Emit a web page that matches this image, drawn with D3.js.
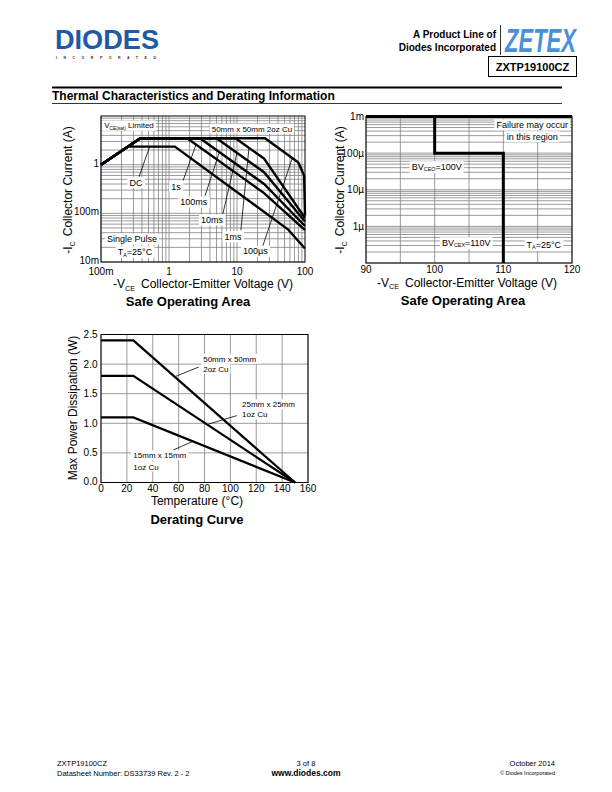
<!DOCTYPE html>
<html><head><meta charset="utf-8">
<script src="https://cdn.jsdelivr.net/npm/d3@7/dist/d3.min.js"></script>
<style>
body{margin:0;background:#fff}
text{font-family:"Liberation Sans",Arial,Helvetica,sans-serif;fill:#000}
</style>
</head><body>
<svg id="c" width="612" height="792"></svg>
<script>
// ---------- DATA ----------
// Safe Operating Area (left): -VCE (V) vs -IC (A)
const soaVoltageTicks = [0.1, 1, 10, 100];
const soaVoltageTickLabels = ["100m", "1", "10", "100"];
const soaCurrentTicks = [0.01, 0.1, 1];
const soaCurrentTickLabels = ["10m", "100m", "1"];
const soaDC    = [[0.1,1],[0.25,2.35],[1.22,2.35],[56,0.047],[100,0.019]];
const soa1s    = [[0.1,1],[0.38,3.5],[1.85,3.5],[25,0.26],[100,0.045]];
const soa100ms = [[0.1,1],[0.38,3.5],[2.85,3.5],[25,0.40],[100,0.055]];
const soa10ms  = [[0.1,1],[0.38,3.5],[5.0,3.5],[25,0.70],[100,0.068]];
const soa1ms   = [[0.1,1],[0.38,3.5],[9.5,3.5],[25,1.33],[100,0.08]];
const soa100us = [[0.1,1],[0.38,3.5],[25.8,3.5],[80,1.1],[97,0.6],[100,0.09]];

// Safe Operating Area (right): breakdown region
const bvVoltageTicks = [90, 100, 110, 120];
const bvCurrentTicks = [1e-6, 1e-5, 1e-4, 1e-3];
const bvCurrentTickLabels = ["1\u00b5", "10\u00b5", "100\u00b5", "1m"];
const bvTopEdge = [[90,1e-3],[120,1e-3]];
const bvLimit   = [[100,1e-3],[100,1e-4],[110,1e-4],[110,1e-7]];

// Derating curve
const deratingTemps = [0, 25, 150];
const pd50x50 = [2.4, 2.4, 0];
const pd25x25 = [1.8, 1.8, 0];
const pd15x15 = [1.1, 1.1, 0];
const tempTicks = [0,20,40,60,80,100,120,140,160];
const powerTicks = [0,0.5,1.0,1.5,2.0,2.5];

// ---------- HELPERS ----------
const svg = d3.select("#c");

// parts: array of [string, isSub, dx]
function richText(g, x, y, parts, size, opts = {}) {
  const t = g.append("text").attr("x", x).attr("y", y)
    .attr("font-size", size)
    .attr("text-anchor", opts.anchor || "middle")
    .attr("dominant-baseline", opts.baseline || "central")
    .attr("font-weight", opts.weight || "normal");
  if (opts.rotate) t.attr("transform", `rotate(${opts.rotate},${x},${y})`);
  let shifted = false;
  parts.forEach(p => {
    const s = t.append("tspan").text(p[0]);
    if (p[2]) s.attr("dx", p[2]);
    if (p[1]) { s.attr("font-size", size * 0.6).attr("dy", size * 0.3); shifted = true; }
    else if (shifted) { s.attr("dy", -size * 0.3); shifted = false; }
  });
  if (opts.box) {
    const b = t.node().getBBox();
    g.insert("rect", () => t.node())
      .attr("x", b.x - 2).attr("y", b.y - 0.5)
      .attr("width", b.width + 4).attr("height", b.height + 1)
      .attr("fill", "#fff");
  }
  return t;
}

function logMinor(lo, hi) {
  const out = [];
  for (let e = Math.round(Math.log10(lo)); e < Math.round(Math.log10(hi)); e++)
    for (let k = 1; k <= 9; k++) out.push(k * Math.pow(10, e));
  return out;
}

function interpLogLog(curve, v) {
  for (let i = 0; i < curve.length - 1; i++) {
    const [x0,y0] = curve[i], [x1,y1] = curve[i+1];
    if (v >= x0 && v <= x1) {
      const t = (Math.log(v) - Math.log(x0)) / (Math.log(x1) - Math.log(x0));
      return Math.exp(Math.log(y0) + t * (Math.log(y1) - Math.log(y0)));
    }
  }
  return curve[curve.length-1][1];
}

// ---------- HEADER ----------
const hdr = svg.append("g");
hdr.append("text").attr("x", 55).attr("y", 49).text("DIODES")
  .attr("font-size", 28).attr("font-weight", 900).attr("textLength", 104)
  .attr("lengthAdjust", "spacingAndGlyphs").style("fill", "#1f5aa6");
hdr.append("text").attr("x", 56).attr("y", 58.5).text("INCORPORATED")
  .attr("font-size", 3.6).attr("font-weight", "bold").attr("textLength", 100)
  .style("fill", "#333");
hdr.append("text").attr("x", 496).attr("y", 38).text("A Product Line of")
  .attr("font-size", 10).attr("font-weight", "bold").attr("text-anchor", "end");
hdr.append("text").attr("x", 496).attr("y", 51).text("Diodes Incorporated")
  .attr("font-size", 10).attr("font-weight", "bold").attr("text-anchor", "end");
hdr.append("line").attr("x1", 500.5).attr("x2", 500.5).attr("y1", 25).attr("y2", 55)
  .attr("stroke", "#000").attr("stroke-width", 0.8);
hdr.append("text").attr("x", 505).attr("y", 52).text("ZETEX")
  .attr("font-size", 33).attr("font-weight", "bold").attr("font-style", "italic")
  .attr("textLength", 71).attr("lengthAdjust", "spacingAndGlyphs")
  .style("fill", "#4a90d9");
hdr.append("rect").attr("x", 488.5).attr("y", 56.5).attr("width", 88).attr("height", 20)
  .attr("fill", "none").attr("stroke", "#000").attr("stroke-width", 1);
hdr.append("text").attr("x", 532.5).attr("y", 70.5).text("ZXTP19100CZ")
  .attr("font-size", 11).attr("font-weight", "bold").attr("text-anchor", "middle");
hdr.append("line").attr("x1", 52).attr("x2", 562).attr("y1", 87.5).attr("y2", 87.5)
  .attr("stroke", "#000").attr("stroke-width", 2);
hdr.append("text").attr("x", 52).attr("y", 99.5)
  .text("Thermal Characteristics and Derating Information")
  .attr("font-size", 12).attr("font-weight", "bold");
hdr.append("line").attr("x1", 52).attr("x2", 562).attr("y1", 103.5).attr("y2", 103.5)
  .attr("stroke", "#000").attr("stroke-width", 0.8);

// ---------- LEFT SOA ----------
{
  const g = svg.append("g");
  const x = d3.scaleLog().domain([0.1, 100]).range([101, 305]);
  const y = d3.scaleLog().domain([0.01, 10]).range([262, 116]);
  logMinor(0.1, 100).forEach(v => g.append("line")
    .attr("x1", x(v)).attr("x2", x(v)).attr("y1", y(0.01)).attr("y2", y(10))
    .attr("stroke", "#808080").attr("stroke-width", 0.8));
  logMinor(0.01, 10).forEach(v => g.append("line")
    .attr("x1", x(0.1)).attr("x2", x(100)).attr("y1", y(v)).attr("y2", y(v))
    .attr("stroke", "#808080").attr("stroke-width", 0.8));
  const line = d3.line().x(d => x(d[0])).y(d => y(d[1]));
  const curves = [soaDC, soa1s, soa100ms, soa10ms, soa1ms, soa100us];
  const labels = [
    {t:[["DC"]], at:[0.328,0.425], from:[0.362,0.56], curve:soaDC, v:0.52},
    {t:[["1s"]], at:[1.27,0.352], from:[1.61,0.47], curve:soa1s, v:2.5},
    {t:[["100ms"]], at:[2.31,0.17], from:[3.39,0.23], curve:soa100ms, v:5.5},
    {t:[["10ms"]], at:[4.29,0.073], from:[6.2,0.098], curve:soa10ms, v:10},
    {t:[["1ms"]], at:[8.76,0.033], from:[11.4,0.045], curve:soa1ms, v:15},
    {t:[["100\u00b5s"]], at:[18.6,0.0165], from:[24,0.0215], curve:soa100us, v:65}
  ];
  labels.forEach(l => g.append("line")
    .attr("x1", x(l.from[0])).attr("y1", y(l.from[1]))
    .attr("x2", x(l.v)).attr("y2", y(interpLogLog(l.curve, l.v)))
    .attr("stroke", "#000").attr("stroke-width", 0.8));
  curves.forEach(c => g.append("path").attr("d", line(c))
    .attr("fill", "none").attr("stroke", "#000").attr("stroke-width", 2.4)
    .attr("stroke-linejoin", "miter"));
  labels.forEach(l => richText(g, x(l.at[0]), y(l.at[1]), l.t, 9, {box:true}));
  richText(g, x(0.258), y(6.4), [["V"],["CE(sat)",true],[" Limited"]], 8, {box:true});
  richText(g, x(16.6), y(5.5), [["50mm x 50mm 2oz Cu"]], 8, {box:true});
  richText(g, x(0.285), y(0.0297), [["Single Pulse"]], 9, {box:true});
  richText(g, x(0.316), y(0.0162), [["T"],["A",true],["=25\u00b0C"]], 9, {box:true});
  g.append("rect").attr("x", 101).attr("y", 116).attr("width", 204).attr("height", 146)
    .attr("fill", "none").attr("stroke", "#000").attr("stroke-width", 1);
  soaVoltageTicks.forEach((v, i) => g.append("text").attr("x", x(v)).attr("y", 271.5)
    .attr("text-anchor", "middle").attr("dominant-baseline", "central")
    .attr("font-size", 10).text(soaVoltageTickLabels[i]));
  soaCurrentTicks.forEach((v, i) => g.append("text").attr("x", 99).attr("y", y(v) - 1.5)
    .attr("text-anchor", "end").attr("dominant-baseline", "central")
    .attr("font-size", 10).text(soaCurrentTickLabels[i]));
  richText(g, 203, 284, [["-V"],["CE",true],["Collector-Emitter Voltage (V)",false,6]], 12);
  richText(g, 68, 190, [["-I"],["C",true],["Collector Current (A)",false,5]], 12, {rotate:-90});
  richText(g, 188, 300.5, [["Safe Operating Area"]], 13, {weight:"bold"});
}

// ---------- RIGHT SOA ----------
{
  const g = svg.append("g");
  const x = d3.scaleLinear().domain([90, 120]).range([366, 572]);
  const y = d3.scaleLog().domain([1e-7, 1e-3]).range([263, 116.5]);
  d3.range(90, 121, 5).forEach(v => g.append("line")
    .attr("x1", x(v)).attr("x2", x(v)).attr("y1", y(1e-7)).attr("y2", y(1e-3))
    .attr("stroke", "#808080").attr("stroke-width", 0.8));
  logMinor(1e-7, 1e-3).forEach(v => g.append("line")
    .attr("x1", x(90)).attr("x2", x(120)).attr("y1", y(v)).attr("y2", y(v))
    .attr("stroke", "#808080").attr("stroke-width", 0.8));
  g.append("rect").attr("x", 366).attr("y", 116.5).attr("width", 206).attr("height", 146.5)
    .attr("fill", "none").attr("stroke", "#000").attr("stroke-width", 1);
  const line = d3.line().x(d => x(d[0])).y(d => y(d[1]));
  [bvTopEdge, bvLimit].forEach(c => g.append("path").attr("d", line(c))
    .attr("fill", "none").attr("stroke", "#000").attr("stroke-width", 3)
    .attr("stroke-linejoin", "miter"));
  richText(g, x(114.2), y(5.94e-4), [["Failure may occur"]], 9, {box:true});
  richText(g, x(114.2), y(2.79e-4), [["in this region"]], 9, {box:true});
  richText(g, x(100.3), y(4.25e-5), [["BV"],["CEO",true],["=100V"]], 9, {box:true});
  richText(g, x(104.6), y(3.58e-7), [["BV"],["CEX",true],["=110V"]], 9, {box:true});
  richText(g, x(115.9), y(3.16e-7), [["T"],["A",true],["=25\u00b0C"]], 9, {box:true});
  bvVoltageTicks.forEach(v => g.append("text").attr("x", x(v)).attr("y", 269.5)
    .attr("text-anchor", "middle").attr("dominant-baseline", "central")
    .attr("font-size", 10).text(v));
  bvCurrentTicks.forEach((v, i) => g.append("text").attr("x", 364).attr("y", y(v))
    .attr("text-anchor", "end").attr("dominant-baseline", "central")
    .attr("font-size", 10).text(bvCurrentTickLabels[i]));
  richText(g, 467, 282.5, [["-V"],["CE",true],["Collector-Emitter Voltage (V)",false,6]], 12);
  richText(g, 340, 190, [["-I"],["C",true],["Collector Current (A)",false,5]], 12, {rotate:-90});
  richText(g, 463, 300, [["Safe Operating Area"]], 13, {weight:"bold"});
}

// ---------- DERATING ----------
{
  const g = svg.append("g");
  const x = d3.scaleLinear().domain([0, 160]).range([101, 308]);
  const y = d3.scaleLinear().domain([0, 2.5]).range([482.5, 334.5]);
  tempTicks.forEach(v => g.append("line")
    .attr("x1", x(v)).attr("x2", x(v)).attr("y1", y(0)).attr("y2", y(2.5))
    .attr("stroke", "#808080").attr("stroke-width", 0.8));
  powerTicks.forEach(v => g.append("line")
    .attr("x1", x(0)).attr("x2", x(160)).attr("y1", y(v)).attr("y2", y(v))
    .attr("stroke", "#808080").attr("stroke-width", 0.8));
  g.append("rect").attr("x", 101).attr("y", 334.5).attr("width", 207).attr("height", 148)
    .attr("fill", "none").attr("stroke", "#000").attr("stroke-width", 1);
  const line = d3.line().x((d, i) => x(deratingTemps[i])).y(d => y(d));
  const interp = (arr, t) => {
    for (let i = 0; i < deratingTemps.length - 1; i++) {
      const a = deratingTemps[i], b = deratingTemps[i+1];
      if (t >= a && t <= b) return arr[i] + (arr[i+1]-arr[i]) * (t-a)/(b-a);
    }
    return 0;
  };
  const leaders = [
    {arr: pd50x50, from:[75.5, 1.95], t:57},
    {arr: pd25x25, from:[105, 1.13], t:82},
    {arr: pd15x15, from:[56, 0.55], t:71}
  ];
  leaders.forEach(l => g.append("line")
    .attr("x1", x(l.from[0])).attr("y1", y(l.from[1]))
    .attr("x2", x(l.t)).attr("y2", y(interp(l.arr, l.t)))
    .attr("stroke", "#000").attr("stroke-width", 0.8));
  [pd50x50, pd25x25, pd15x15].forEach(a => g.append("path").attr("d", line(a))
    .attr("fill", "none").attr("stroke", "#000").attr("stroke-width", 2.2));
  const ann = (t, p, s) => richText(g, x(t), y(p), [[s]], 8, {anchor:"start", box:true});
  ann(79, 2.09, "50mm x 50mm"); ann(79, 1.92, "2oz Cu");
  ann(109, 1.32, "25mm x 25mm"); ann(109, 1.15, "1oz Cu");
  ann(25, 0.46, "15mm x 15mm"); ann(25, 0.27, "1oz Cu");
  tempTicks.forEach(v => g.append("text").attr("x", x(v)).attr("y", 488)
    .attr("text-anchor", "middle").attr("dominant-baseline", "central")
    .attr("font-size", 10).text(v));
  powerTicks.forEach(v => g.append("text").attr("x", 97.5).attr("y", y(v) - (v === 0 ? 1.5 : 0))
    .attr("text-anchor", "end").attr("dominant-baseline", "central")
    .attr("font-size", 10).text(v.toFixed(1)));
  richText(g, 197, 500.5, [["Temperature (\u00b0C)"]], 12);
  richText(g, 73, 408, [["Max Power Dissipation (W)"]], 12, {rotate:-90});
  richText(g, 197, 518.5, [["Derating Curve"]], 13, {weight:"bold"});
}

// ---------- FOOTER ----------
{
  const g = svg.append("g");
  g.append("text").attr("x", 57).attr("y", 766).attr("font-size", 7.5).text("ZXTP19100CZ");
  g.append("text").attr("x", 57).attr("y", 776).attr("font-size", 7.5)
    .text("Datasheet Number: DS33739 Rev. 2 - 2");
  g.append("text").attr("x", 306).attr("y", 766).attr("font-size", 7.5)
    .attr("text-anchor", "middle").text("3 of 8");
  g.append("text").attr("x", 306).attr("y", 776).attr("font-size", 8.5)
    .attr("font-weight", "bold").attr("text-anchor", "middle").text("www.diodes.com");
  g.append("text").attr("x", 555).attr("y", 766).attr("font-size", 7.5)
    .attr("text-anchor", "end").text("October 2014");
  g.append("text").attr("x", 555).attr("y", 775).attr("font-size", 5.5)
    .attr("text-anchor", "end").text("\u00a9 Diodes Incorporated");
}
</script>
</body></html>
